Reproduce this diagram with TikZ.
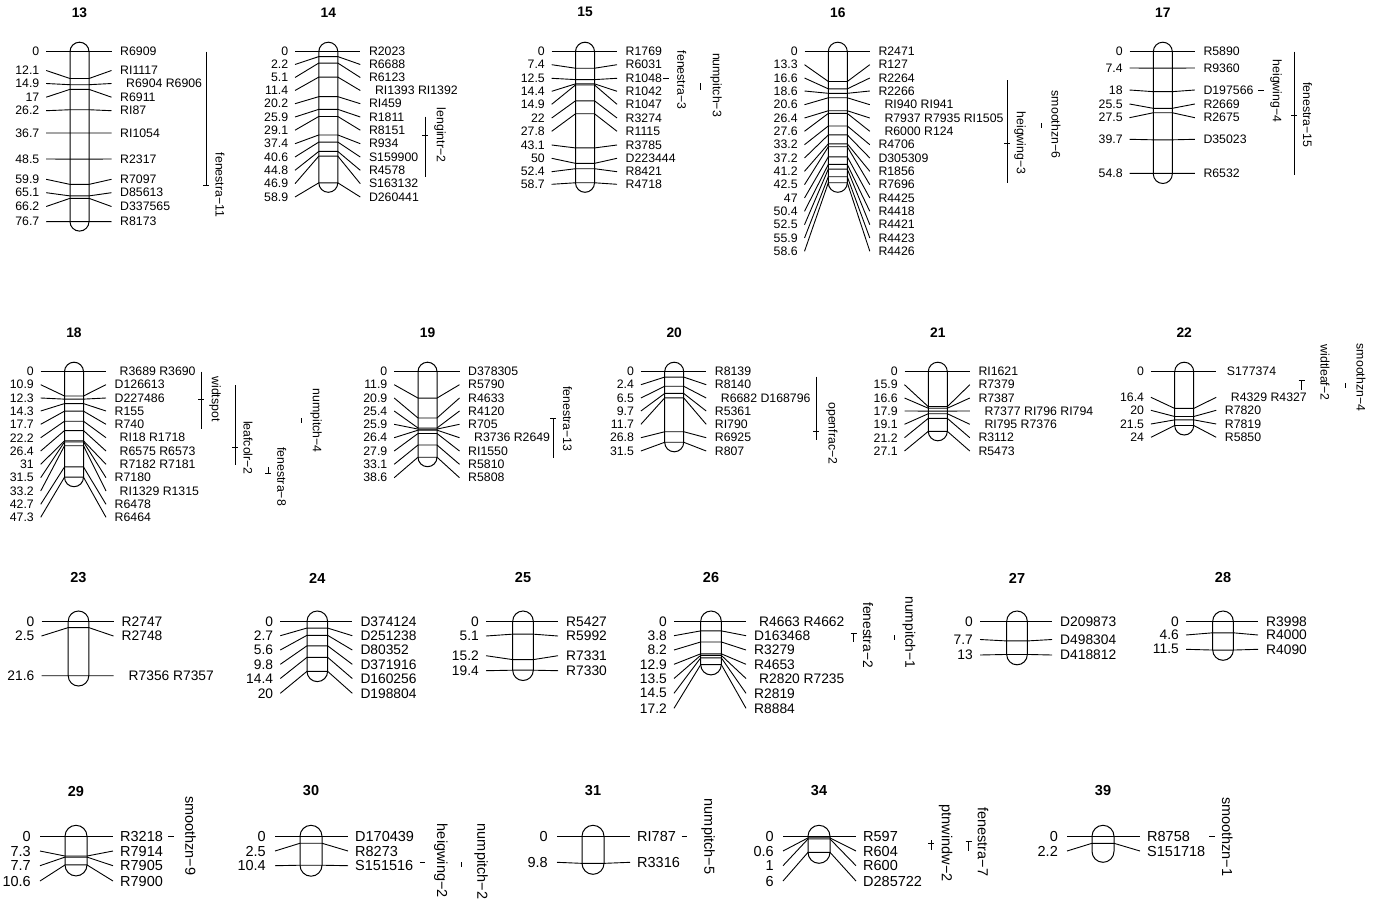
\documentclass[tikz,border=0pt]{standalone}
\usepackage{fontspec}
\setmainfont{Liberation Sans}
\newcommand\rowset[8]{\def\hw{#1}\def\dnum{#2}\def\dll{#3}\def\dlr{#4}\def\dnm{#5}\def\fs{#6}\def\ty{#7}\def\tfs{#8}}
\tikzset{
  mk/.style={line width=0.9pt},
  chrbar/.style={line width=1pt},
  numl/.style={anchor=east,inner sep=0pt,font=\fontsize{\fs}{\fs}\selectfont},
  naml/.style={anchor=west,inner sep=0pt,font=\fontsize{\fs}{\fs}\selectfont},
  qlab/.style={rotate=-90,inner sep=0pt,font=\fontsize{\fs}{\fs}\selectfont},
  ttl/.style={inner sep=0pt,font=\bfseries\fontsize{\tfs}{\tfs}\selectfont}
}
% #1 title, #2 cx, #3 y0 (0 cM), #4 px per cM, #5 bar bottom, #6 entries cM/labely/name/indent
\newcommand\chrom[6]{%
  \node[ttl] (t#1) at (#2,\ty) {#1};
  \draw[chrbar,rounded corners=\hw pt] (#2-\hw,#3-\hw) rectangle (#2+\hw,#5);
  \foreach \m/\ly/\nm/\ind [count=\i] in {#6}{%
    \pgfmathsetmacro\ym{#3+\m*#4}
    \draw[mk] (#2-\dll,\ly) -- (#2-\hw,\ym) -- (#2+\hw,\ym) -- (#2+\dlr,\ly);
    \node[numl] (n#1-\i) at (#2-\dnum,\ly) {\m};
    \node[naml] (m#1-\i) at (#2+\dnm+\ind,\ly) {\nm};
  }%
}
% #1 name, #2 x, #3 ya, #4 yb, #5 peak y, #6 tick half width, #7 label x, #8 label y, #9 text
\newcommand\qtl[9]{%
  \draw[mk] (#2,#3) -- (#2,#4);
  \draw[mk] (#2-#6,#5) -- (#2+#6,#5);
  \node[qlab] (#1) at (#7,#8) {#9};
}
\begin{document}
\begin{tikzpicture}[x=1pt,y=-1pt]
\useasboundingbox (0,0) rectangle (1375,899);
\fill[white] (0,0) rectangle (1375,899);
%================ row 1
\rowset{9.5}{40}{33.3}{32}{40.5}{12.3}{12.3}{13.8}
\chrom{13}{79.5}{51.7}{2.215}{231.1}{0/51.7/R6909/0, 12.1/70.5/RI1117/0, 14.9/83.5/R6904 R6906/6, 17/97.2/R6911/0, 26.2/110.7/RI87/0, 36.7/133/RI1054/0, 48.5/159/R2317/0, 59.9/179.3/R7097/0, 65.1/192.7/D85613/0, 66.2/206.5/D337565/0, 76.7/221.7/R8173/0}
\qtl{q13a}{206}{51.7}{185}{185}{3}{220}{185}{fenestra−11}

\chrom{14}{328.3}{51.7}{2.226}{192.3}{0/51.7/R2023/0, 2.2/64.5/R6688/0, 5.1/77.5/R6123/0, 11.4/90.5/RI1393 RI1392/6, 20.2/103.7/RI459/0, 25.9/117/R1811/0, 29.1/130.2/R8151/0, 37.4/143.7/R934/0, 40.6/157/S159900/0, 44.8/170.3/R4578/0, 46.9/183.7/S163132/0, 58.9/197/D260441/0}
\qtl{q14a}{425}{116.7}{176.7}{135}{3}{440}{135}{lengintr−2}

\chrom{15}{585}{51.7}{2.233}{192.3}{0/51.7/R1769/0, 7.4/64.7/R6031/0, 12.5/78.3/R1048/0, 14.4/91.3/R1042/0, 14.9/104.3/R1047/0, 22/118/R3274/0, 27.8/131.3/R1115/0, 43.1/145/R3785/0, 50/158.3/D223444/0, 52.4/171.7/R8421/0, 58.7/184.3/R4718/0}
\qtl{q15a}{665.8}{78.3}{78.3}{78.3}{2.8}{681.7}{80}{fenestra−3}
\qtl{q15b}{700.7}{83.3}{90}{86.7}{0}{716}{85}{numpitch−3}

\chrom{16}{837.8}{51.7}{2.237}{192.3}{0/51.7/R2471/0, 13.3/64.7/R127/0, 16.6/78/R2264/0, 18.6/91/R2266/0, 20.6/104.7/RI940 RI941/6, 26.4/118/R7937 R7935 RI1505/6, 27.6/131.3/R6000 R124/6, 33.2/144.7/R4706/0, 37.2/158/D305309/0, 41.2/171.3/R1856/0, 42.5/184.7/R7696/0, 47/198/R4425/0, 50.4/211.3/R4418/0, 52.5/224.7/R4421/0, 55.9/238/R4423/0, 58.6/251.3/R4426/0}
\qtl{q16a}{1007.3}{80}{183.3}{143.3}{3}{1020}{143}{heigwing−3}
\qtl{q16b}{1041}{123.3}{128.3}{125.8}{0}{1056}{124.5}{smoothzn−6}

\chrom{17}{1162.8}{51.7}{2.22}{183.5}{0/51.7/R5890/0, 7.4/68/R9360/0, 18/90/D197566/0, 25.5/104/R2669/0, 27.5/117.7/R2675/0, 39.7/139.3/D35023/0, 54.8/173.3/R6532/0}
\qtl{q17a}{1260.8}{90}{90}{90}{2.8}{1276}{91}{heigwing−4}
\qtl{q17b}{1294.3}{51.7}{175}{115}{3}{1307.5}{115}{fenestra−15}
%================ row 2
\rowset{9.5}{40}{33.3}{32}{40.5}{12.3}{333}{13.8}
\chrom{18}{74}{371.7}{2.23}{486.7}{0/371.7/R3689 R3690/5, 10.9/384.7/D126613/0, 12.3/398/D227486/0, 14.3/411/R155/0, 17.7/424.3/R740/0, 22.2/437.7/RI18 R1718/5, 26.4/451/R6575 R6573/5, 31/464.3/R7182 R7181/5, 31.5/477.7/R7180/0, 33.2/491/RI1329 R1315/5, 42.7/504.3/R6478/0, 47.3/517.3/R6464/0}
\qtl{q18a}{201}{371.7}{429.3}{399}{3}{215}{399}{widtspot}
\qtl{q18b}{235}{385}{465}{447.3}{3}{248}{448}{leafcolr−2}
\qtl{q18c}{268.3}{467}{473}{473}{3}{281.7}{476.7}{fenestra−8}
\qtl{q18d}{301}{418.3}{423.3}{420.8}{0}{316}{420.8}{numpitch−4}

\chrom{19}{427.5}{371.7}{2.215}{466.7}{0/371.7/D378305/0, 11.9/384.7/R5790/0, 20.9/398/R4633/0, 25.4/411/R4120/0, 25.9/424.3/R705/0, 26.4/437.7/R3736 R2649/6, 27.9/451/RI1550/0, 33.1/464.3/R5810/0, 38.6/477.7/R5808/0}
\qtl{q19a}{553.3}{418.3}{458.3}{418.3}{3}{567.5}{419}{fenestra−13}

\chrom{20}{674.2}{371.7}{2.24}{451.8}{0/371.7/R8139/0, 2.4/384.7/R8140/0, 6.5/398/R6682 D168796/6, 9.7/411/R5361/0, 11.7/424.3/RI790/0, 26.8/437.7/R6925/0, 31.5/451/R807/0}
\qtl{q20a}{816}{376.7}{440}{431}{3}{831.7}{433.3}{openfrac−2}

\chrom{21}{937.8}{371.7}{2.2}{440.8}{0/371.7/RI1621/0, 15.9/384.7/R7379/0, 16.6/398/R7387/0, 17.9/411/R7377 RI796 RI794/6, 19.1/424.3/RI795 R7376/6, 21.2/437.7/R3112/0, 27.1/451/R5473/0}

\chrom{22}{1184.2}{371.7}{2.24}{435}{0/371.7/S177374/2, 16.4/397.3/R4329 R4327/6, 20/410.3/R7820/0, 21.5/424/R7819/0, 24/437.3/R5850/0}
\qtl{q22a}{1301.7}{380}{390}{380}{3}{1325}{372.5}{widtleaf−2}
\qtl{q22b}{1345}{383.3}{388.3}{385.8}{0}{1361}{377.5}{smoothzn−4}
%================ row 3
\rowset{10.3}{44}{37}{35}{43}{13.8}{578}{14.5}
\chrom{23}{78.5}{621.3}{2.52}{686}{0/621.3/R2747/0, 2.5/636/R2748/0, 21.6/675.7/R7356 R7357/7}
\chrom{24}{317.3}{621.3}{2.5}{681.6}{0/621.3/D374124/0, 2.7/635.7/D251238/0, 5.6/650/D80352/0, 9.8/664.3/D371916/0, 14.4/678.5/D160256/0, 20/693.3/D198804/0}
\chrom{25}{523}{621.3}{2.52}{680.5}{0/621.3/R5427/0, 5.1/636/R5992/0, 15.2/655.7/R7331/0, 19.4/670.7/R7330/0}
\chrom{26}{711}{621.3}{2.52}{674.9}{0/621.3/R4663 R4662/5, 3.8/635.7/D163468/0, 8.2/650/R3279/0, 12.9/664.3/R4653/0, 13.5/678.5/R2820 R7235/5, 14.5/693.3/R2819/0, 17.2/708.3/R8884/0}
\qtl{q26a}{853.5}{633.3}{641.7}{633.3}{3}{868}{635}{fenestra−2}
\qtl{q26b}{894.4}{635}{640}{637.5}{0}{909}{632.5}{numpitch−1}
\chrom{27}{1017}{621.3}{2.55}{664.8}{0/621.3/D209873/0, 7.7/639.5/D498304/0, 13/655/D418812/0}
\chrom{28}{1223}{621.3}{2.5}{660.3}{0/621.3/R3998/0, 4.6/635/R4000/0, 11.5/649.3/R4090/0}
%================ row 4
\rowset{11}{45}{36}{37}{44}{14.5}{791}{14.5}
\chrom{29}{76}{836.3}{2.7}{875.9}{0/836.3/R3218/0, 7.3/851/R7914/0, 7.7/865.7/R7905/0, 10.6/881/R7900/0}
\qtl{q29a}{171}{836.3}{836.3}{836.3}{3}{190.5}{835.8}{smoothzn−9}
\chrom{30}{311}{836.3}{2.78}{876.2}{0/836.3/D170439/0, 2.5/851/R8273/0, 10.4/865.7/S151516/0}
\qtl{q30a}{422.3}{862.3}{862.3}{862.3}{2.5}{440.8}{860.8}{heigwing−2}
\qtl{q30b}{461.4}{862.3}{866.7}{864.5}{0}{481}{861.5}{numpitch−2}
\chrom{31}{593}{836.3}{2.76}{874.3}{0/836.3/RI787/0, 9.8/862.3/R3316/0}
\qtl{q31a}{684}{836.3}{836.3}{836.3}{2.5}{708}{836.5}{numpitch−5}
\chrom{34}{819}{836.3}{2.67}{863.3}{0/836.3/R597/0, 0.6/851/R604/0, 1/865.7/R600/0, 6/881/D285722/0}
\qtl{q34a}{931}{840}{850}{843.3}{3}{945.6}{843.3}{ptnwindw−2}
\qtl{q34b}{968.5}{841}{851}{841}{3}{983}{841.7}{fenestra−7}
\chrom{39}{1103}{836.3}{3.18}{862.3}{0/836.3/R8758/0, 2.2/851/S151718/0}
\qtl{q39a}{1212}{836.3}{836.3}{836.3}{3}{1227.4}{836.7}{smoothzn−1}
\end{tikzpicture}
\end{document}
